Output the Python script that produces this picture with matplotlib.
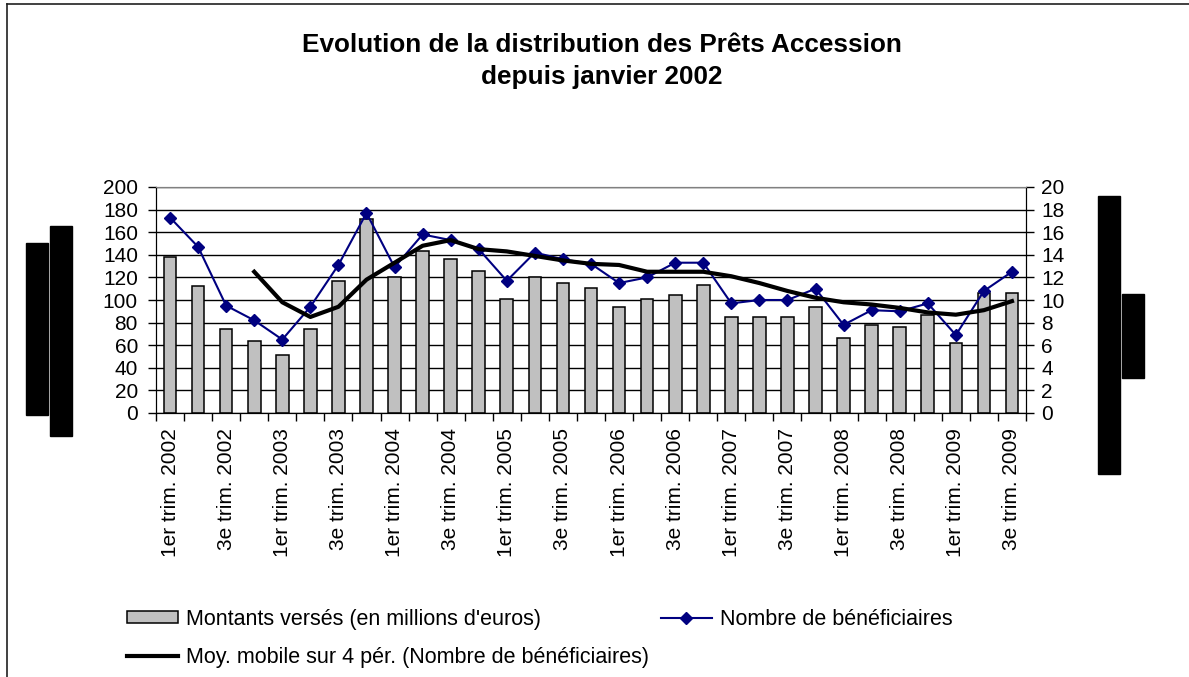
import numpy as np
import matplotlib
matplotlib.use('Agg')
import matplotlib.pyplot as plt
from matplotlib.patches import Rectangle
from matplotlib.lines import Line2D

plt.rcParams['font.family'] = ['Liberation Sans', 'DejaVu Sans']

# quarters Q1 2002 .. Q3 2009
quarters = ['1er trim. 2002', '2e trim. 2002', '3e trim. 2002', '4e trim. 2002',
            '1er trim. 2003', '2e trim. 2003', '3e trim. 2003', '4e trim. 2003',
            '1er trim. 2004', '2e trim. 2004', '3e trim. 2004', '4e trim. 2004',
            '1er trim. 2005', '2e trim. 2005', '3e trim. 2005', '4e trim. 2005',
            '1er trim. 2006', '2e trim. 2006', '3e trim. 2006', '4e trim. 2006',
            '1er trim. 2007', '2e trim. 2007', '3e trim. 2007', '4e trim. 2007',
            '1er trim. 2008', '2e trim. 2008', '3e trim. 2008', '4e trim. 2008',
            '1er trim. 2009', '2e trim. 2009', '3e trim. 2009']

# montants verses (millions d'euros), left axis
montants = [138, 112, 74, 64, 51, 74, 117, 172, 120, 143, 136, 126,
            101, 120, 115, 111, 94, 101, 104, 113, 85, 85, 85, 94,
            66, 78, 76, 87, 62, 106, 106]

# nombre de beneficiaires, right axis
beneficiaires = [17.3, 14.7, 9.5, 8.2, 6.5, 9.4, 13.1, 17.7, 12.9, 15.8, 15.3, 14.5,
                 11.7, 14.2, 13.6, 13.2, 11.5, 12.0, 13.3, 13.3, 9.7, 10.0, 10.0, 11.0,
                 7.8, 9.1, 9.0, 9.7, 6.9, 10.8, 12.5]

# moving average (starts at 4th quarter)
moy_mobile = [np.nan, np.nan, np.nan, 12.5, 9.8, 8.5, 9.4, 11.8, 13.3, 14.8, 15.3, 14.5,
              14.3, 13.9, 13.5, 13.2, 13.1, 12.5, 12.5, 12.5, 12.1, 11.5, 10.8, 10.2,
              9.8, 9.6, 9.3, 8.9, 8.7, 9.1, 9.9]

W, H = 1189, 677
fig = plt.figure(figsize=(W / 100, H / 100), dpi=100)

def px_box(x0, y0, x1, y1):
    # pixel box (from top-left) -> figure fraction [l, b, w, h]
    return [x0 / W, 1 - y1 / H, (x1 - x0) / W, (y1 - y0) / H]

ax = fig.add_axes(px_box(156, 187, 1026, 413))
ax2 = ax.twinx()

x = np.arange(len(quarters))
fs = 15

ax.bar(x, montants, width=0.45, color='#C0C0C0', edgecolor='black', linewidth=1.1,
       label="Montants versés (en millions d'euros)", zorder=2)
ax.set_ylim(0, 200)
ax.set_yticks(np.arange(0, 201, 20))
ax.set_xlim(-0.5, len(quarters) - 0.5)
ax.yaxis.grid(True, color='black', linewidth=1)
ax.set_axisbelow(True)

# tick marks at category borders, labels every other quarter
ax.set_xticks(np.arange(-0.5, len(quarters), 1))
ax.set_xticklabels([])
ax.set_xticks(x[::2], minor=True)
ax.set_xticklabels(quarters[::2], minor=True, rotation=90, fontsize=fs)
ax.tick_params(axis='x', which='major', length=6, width=1, direction='out')
ax.tick_params(axis='x', which='minor', length=0, pad=11)
ax.tick_params(axis='y', length=6, width=1, direction='out', labelsize=fs, pad=7)

ax2.plot(x, beneficiaires, color='#000080', linewidth=1.5, marker='D', markersize=6.5,
         label='Nombre de bénéficiaires', zorder=3)
ax2.plot(x, moy_mobile, color='black', linewidth=3,
         label='Moy. mobile sur 4 pér. (Nombre de bénéficiaires)', zorder=4)
ax2.set_ylim(0, 20)
ax2.set_yticks(np.arange(0, 21, 2))
ax2.tick_params(axis='y', length=6, width=1, direction='out', labelsize=fs, pad=5)

for a in (ax, ax2):
    a.spines['top'].set_color('#808080')
    a.spines['left'].set_color('black')
    a.spines['right'].set_color('black')
    a.spines['bottom'].set_color('black')

fig.text(602 / W, 1 - 61 / H, 'Evolution de la distribution des Prêts Accession\ndepuis janvier 2002',
         ha='center', va='center', fontsize=18.8, fontweight='bold', linespacing=1.42)

# legend
h1, l1 = ax.get_legend_handles_labels()
h2, l2 = ax2.get_legend_handles_labels()
handles = [h1[0], h2[1], h2[0]]
labels = [l1[0], l2[1], l2[0]]
fig.legend(handles, labels, ncol=2, loc='upper left', bbox_to_anchor=(118 / W, 1 - 600 / H),
           frameon=False, fontsize=15.5, handlelength=2.4, handletextpad=0.35,
           columnspacing=0.55, labelspacing=0.8, handleheight=0.5, borderaxespad=0)

# chart border (left and top visible only)
fig.add_artist(Line2D([7 / W, 7 / W], [0, 1 - 4 / H], color='#202020', linewidth=1.2))
fig.add_artist(Line2D([7 / W, 1], [1 - 4 / H, 1 - 4 / H], color='#202020', linewidth=1.2))

# black boxes beside the axes
for bx in [(26, 243, 48, 415), (50, 226, 72, 436), (1098, 196, 1120, 474), (1122, 294, 1144, 378)]:
    l, b, w, h = px_box(*bx)
    fig.add_artist(Rectangle((l, b), w, h, transform=fig.transFigure, color='black'))

fig.savefig('out.png', dpi=100)
